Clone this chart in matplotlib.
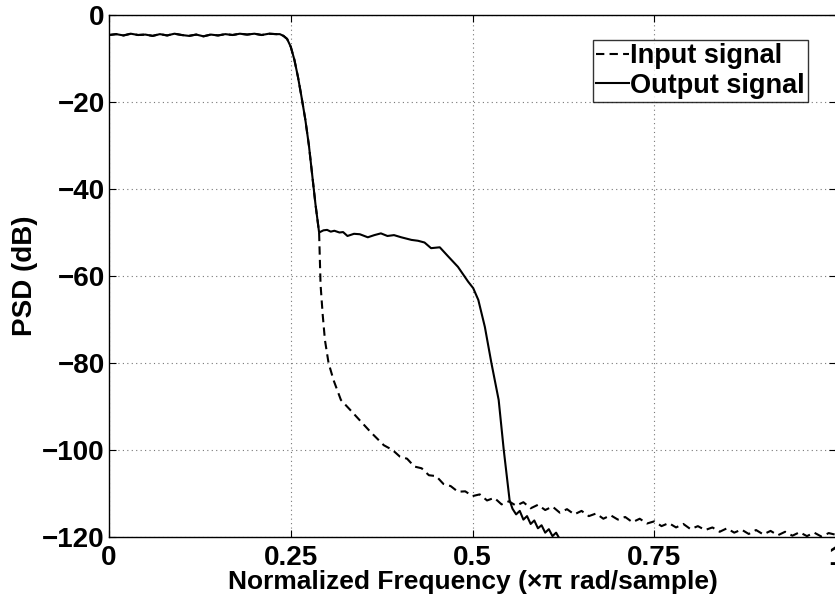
import matplotlib
matplotlib.use("Agg")
import matplotlib.pyplot as plt

# passband (shared by both signals)
PASS_FREQ = [0.00, 0.01, 0.02, 0.03, 0.04, 0.05, 0.06, 0.07, 0.08, 0.09, 0.10, 0.11,
             0.12, 0.13, 0.14, 0.15, 0.16, 0.17, 0.18, 0.19, 0.20, 0.21, 0.22, 0.23,
             0.235, 0.24, 0.245, 0.25, 0.255, 0.26, 0.265, 0.27, 0.275, 0.28, 0.284,
             0.289]
PASS_PSD = [-4.6, -4.4, -4.7, -4.3, -4.6, -4.5, -4.8, -4.4, -4.7, -4.3, -4.6, -4.8,
            -4.5, -4.9, -4.5, -4.7, -4.4, -4.6, -4.3, -4.5, -4.3, -4.6, -4.3, -4.4,
            -4.4, -4.8, -5.5, -7.3, -10.3, -14.3, -19.0, -24.0, -30.0, -37.5, -43.5,
            -50.0]

# input signal stopband
IN_FREQ = [0.291, 0.294, 0.297, 0.302, 0.309, 0.319, 0.333, 0.344, 0.36, 0.378, 0.39,
           0.40, 0.41, 0.42, 0.43, 0.44, 0.45, 0.46, 0.47, 0.48, 0.49, 0.50, 0.51, 0.52,
           0.53, 0.54, 0.55, 0.56, 0.57, 0.58, 0.59, 0.60, 0.61, 0.62, 0.63, 0.64, 0.65,
           0.66, 0.67, 0.68, 0.69, 0.70, 0.71, 0.72, 0.73, 0.74, 0.75, 0.76, 0.77, 0.78,
           0.79, 0.80, 0.81, 0.82, 0.83, 0.84, 0.85, 0.86, 0.87, 0.88, 0.89, 0.90, 0.91,
           0.92, 0.93, 0.94, 0.95, 0.96, 0.97, 0.98, 0.99, 1.00]
IN_PSD = [-62.0, -69.0, -74.7, -80.0, -84.0, -88.5, -91.0, -93.0, -95.9, -98.9, -100.0,
          -101.5, -102.0, -103.8, -104.2, -105.8, -106.0, -107.8, -108.3, -109.6, -109.5,
          -110.6, -110.2, -111.6, -111.0, -112.5, -111.8, -112.8, -112.0, -113.4, -112.6,
          -113.8, -113.0, -114.4, -113.6, -114.8, -114.0, -115.2, -114.6, -115.8, -115.0,
          -116.0, -115.4, -116.6, -115.8, -116.9, -116.4, -117.5, -116.8, -117.8, -117.0,
          -118.2, -117.5, -118.4, -117.8, -118.8, -118.0, -119.0, -118.3, -119.3, -118.4,
          -119.4, -118.6, -119.6, -118.8, -119.7, -118.9, -119.8, -119.0, -119.9, -119.1,
          -119.5]

# output signal stopband
OUT_FREQ = [0.295, 0.30, 0.305, 0.31, 0.317, 0.322, 0.328, 0.337, 0.345, 0.356, 0.365,
            0.374, 0.383, 0.392, 0.402, 0.416, 0.425, 0.434, 0.443, 0.455, 0.466, 0.48,
            0.494, 0.501, 0.508, 0.517, 0.526, 0.536, 0.543, 0.551, 0.555, 0.56, 0.565,
            0.57, 0.575, 0.58, 0.585, 0.59, 0.595, 0.60, 0.605, 0.61, 0.615, 0.62, 0.63,
            0.65, 0.70, 0.80, 0.90, 1.00]
OUT_PSD = [-49.5, -49.4, -49.8, -49.6, -50.0, -49.9, -50.8, -50.3, -50.4, -51.1, -50.6,
           -50.2, -50.8, -50.6, -51.1, -51.7, -51.9, -52.3, -53.6, -53.4, -55.4, -57.9,
           -61.3, -62.8, -65.5, -71.7, -80.0, -88.5, -100.0, -111.5, -113.5, -114.8,
           -114.0, -116.0, -115.2, -117.0, -116.2, -118.0, -117.3, -119.0, -118.2, -119.8,
           -119.0, -120.5, -121.5, -123.0, -125.0, -127.0, -128.0, -128.0]

X_TICKS = [0, 0.25, 0.5, 0.75, 1]
X_TICK_LABELS = ["0", "0.25", "0.5", "0.75", "1"]
Y_TICKS = [-120, -100, -80, -60, -40, -20, 0]

plt.rcParams["font.family"] = ["Liberation Sans", "DejaVu Sans"]
plt.rcParams["font.weight"] = "bold"

fig = plt.figure(figsize=(8.35, 6.0), dpi=100)
ax = fig.add_axes([109 / 835, 63 / 600, 727 / 835, 522 / 600])

in_f = PASS_FREQ + IN_FREQ
in_p = PASS_PSD + IN_PSD
out_f = PASS_FREQ + OUT_FREQ
out_p = PASS_PSD + OUT_PSD

ax.plot(in_f, in_p, color="black", linestyle=(0, (4, 2.5)), linewidth=1.5, label="Input signal")
ax.plot(out_f, out_p, color="black", linestyle="-", linewidth=1.5, label="Output signal")

ax.set_xlim(0, 1)
ax.set_ylim(-120, 0)
ax.set_xticks(X_TICKS)
ax.set_xticklabels(X_TICK_LABELS)
ax.set_yticks(Y_TICKS)
ax.tick_params(direction="in", length=5, width=0.8, top=True, right=True,
               labelsize=20)
ax.tick_params(axis="x", pad=6)
ax.tick_params(axis="y", pad=3)
for lbl in ax.get_xticklabels() + ax.get_yticklabels():
    lbl.set_fontweight("bold")
ax.grid(True, linestyle=(0, (1, 3)), color="#777777", linewidth=0.8)
for spine in ax.spines.values():
    spine.set_linewidth(1.0)

ax.set_xlabel("Normalized Frequency (\u00d7\u03c0 rad/sample)", fontsize=19,
              fontweight="bold", labelpad=-1)
ax.set_ylabel("PSD (dB)", fontsize=20, fontweight="bold", labelpad=3)

leg = ax.legend(loc="upper right", bbox_to_anchor=(0.9615, 0.952), borderaxespad=0,
                fontsize=19.5, frameon=True, fancybox=False, handlelength=1.2,
                handletextpad=0.05, borderpad=0.12, labelspacing=0.12)
leg.get_frame().set_edgecolor("black")
leg.get_frame().set_linewidth(1.0)
for t in leg.get_texts():
    t.set_fontweight("bold")

fig.savefig("out.png", dpi=100)
